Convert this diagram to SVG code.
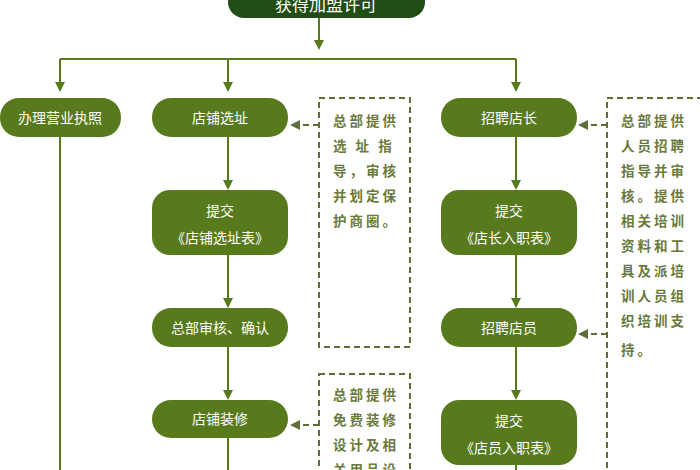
<svg xmlns="http://www.w3.org/2000/svg" width="700" height="470" viewBox="0 0 700 470">
<style>
.n{fill:#577a1c}
.t{fill:#fff;font-family:"Noto Sans CJK SC",sans-serif;font-size:14px;text-anchor:middle}
.l{stroke:#577a1c;stroke-width:2;fill:none}
.d{stroke:#5d6e38;stroke-width:2;fill:none;stroke-dasharray:6,4}
.dt{fill:#6a7a3a;font-family:"Noto Sans CJK SC",sans-serif;font-size:13.5px;font-weight:bold;letter-spacing:3px}
</style>
<defs>
<marker id="a" markerWidth="10" markerHeight="10" refX="8" refY="5" orient="auto" markerUnits="userSpaceOnUse"><path d="M0,0L10,5L0,10z" fill="#577a1c"/></marker>
<marker id="b" markerWidth="10" markerHeight="10" refX="8" refY="5" orient="auto" markerUnits="userSpaceOnUse"><path d="M0,0L10,5L0,10z" fill="#5d6e38"/></marker>
</defs>
<g id="connectors">
<path class="l" d="M319,18V48" marker-end="url(#a)"/>
<path class="l" d="M60,59H516"/>
<path class="l" d="M60,59V90" marker-end="url(#a)"/>
<path class="l" d="M228,59V90" marker-end="url(#a)"/>
<path class="l" d="M516,59V90" marker-end="url(#a)"/>
<path class="l" d="M60,137V470"/>
<path class="l" d="M228,137V188" marker-end="url(#a)"/>
<path class="l" d="M228,255V306" marker-end="url(#a)"/>
<path class="l" d="M228,347V398" marker-end="url(#a)"/>
<path class="l" d="M228,438V470"/>
<path class="l" d="M516,137V188" marker-end="url(#a)"/>
<path class="l" d="M516,255V306" marker-end="url(#a)"/>
<path class="l" d="M516,347V398" marker-end="url(#a)"/>
<path class="l" d="M516,465V470"/>
<path class="d" d="M319,125H292" marker-end="url(#b)"/>
<path class="d" d="M319,425H292" marker-end="url(#b)"/>
<path class="d" d="M607,125H580" marker-end="url(#b)"/>
<path class="d" d="M607,334H580" marker-end="url(#b)"/>
</g>
<g id="top"><rect x="228" y="-20" width="197" height="38" rx="16" fill="#1f4d14"/><text class="t" x="326" y="11" style="font-size:17px">获得加盟许可</text></g>
<g id="n1"><rect class="n" x="0" y="98" width="121" height="39" rx="19"/><text class="t" x="60" y="123">办理营业执照</text></g>
<g id="n2"><rect class="n" x="152" y="98" width="136" height="39" rx="19"/><text class="t" x="220" y="123">店铺选址</text></g>
<g id="n3"><rect class="n" x="152" y="190" width="136" height="65" rx="18"/><text class="t" x="220" y="216">提交</text><text class="t" x="220" y="243">《店铺选址表》</text></g>
<g id="n4"><rect class="n" x="152" y="308" width="136" height="39" rx="19"/><text class="t" x="220" y="333">总部审核、确认</text></g>
<g id="n5"><rect class="n" x="152" y="400" width="136" height="38" rx="19"/><text class="t" x="220" y="424">店铺装修</text></g>
<g id="n6"><rect class="n" x="441" y="98" width="136" height="39" rx="19"/><text class="t" x="509" y="123">招聘店长</text></g>
<g id="n7"><rect class="n" x="441" y="190" width="136" height="65" rx="18"/><text class="t" x="509" y="216">提交</text><text class="t" x="509" y="243">《店长入职表》</text></g>
<g id="n8"><rect class="n" x="441" y="308" width="136" height="39" rx="19"/><text class="t" x="509" y="333">招聘店员</text></g>
<g id="n9"><rect class="n" x="441" y="400" width="136" height="65" rx="18"/><text class="t" x="509" y="426">提交</text><text class="t" x="509" y="453">《店员入职表》</text></g>
<g id="note1"><rect class="d" x="319" y="98" width="91" height="249"/>
<text class="dt" x="333" y="126">总部提供</text><text class="dt" x="333" y="151">选 址 指</text><text class="dt" x="333" y="176">导，审核</text><text class="dt" x="333" y="201">并划定保</text><text class="dt" x="333" y="226">护商圈。</text></g>
<g id="note2"><rect class="d" x="319" y="374" width="91" height="110"/>
<text class="dt" x="333" y="400">总部提供</text><text class="dt" x="333" y="425">免费装修</text><text class="dt" x="333" y="450">设计及相</text><text class="dt" x="333" y="475">关用品设</text></g>
<g id="note3"><rect class="d" x="607" y="98" width="100" height="380"/>
<text class="dt" x="621" y="126">总部提供</text><text class="dt" x="621" y="151">人员招聘</text><text class="dt" x="621" y="176">指导并审</text><text class="dt" x="621" y="201">核。提供</text><text class="dt" x="621" y="226">相关培训</text><text class="dt" x="621" y="251">资料和工</text><text class="dt" x="621" y="276">具及派培</text><text class="dt" x="621" y="301">训人员组</text><text class="dt" x="621" y="326">织培训支</text><text class="dt" x="621" y="355">持。</text></g>
</svg>
